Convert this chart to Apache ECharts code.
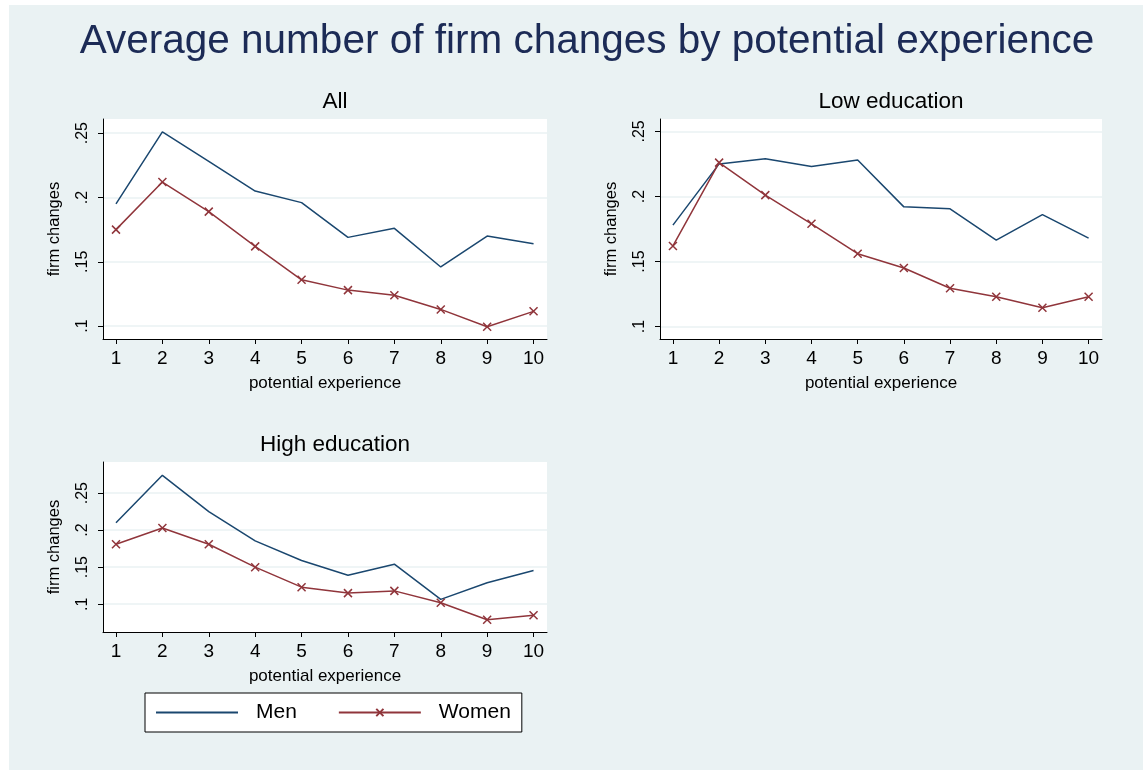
<!DOCTYPE html>
<html><head><meta charset="utf-8">
<script src="https://cdn.jsdelivr.net/npm/echarts@6/dist/echarts.min.js"></script>
<style>
html,body{margin:0;padding:0;background:#fff;}
#bg{position:absolute;left:9px;top:5px;width:1134px;height:765px;background:#EAF2F3;}
#c{position:absolute;left:0;top:0;width:1143px;height:770px;}
</style></head>
<body><div id="bg"></div><div id="c"></div>
<script>
const experience = [1,2,3,4,5,6,7,8,9,10];
const yTicks = [0.1, 0.15, 0.2, 0.25];
const allMen    = [0.195, 0.251, 0.228, 0.205, 0.196, 0.169, 0.176, 0.146, 0.170, 0.164];
const allWomen  = [0.175, 0.212, 0.189, 0.162, 0.136, 0.128, 0.124, 0.113, 0.0995, 0.1115];
const lowMen    = [0.178, 0.225, 0.229, 0.223, 0.228, 0.192, 0.1905, 0.1665, 0.186, 0.168];
const lowWomen  = [0.162, 0.226, 0.201, 0.179, 0.156, 0.145, 0.1295, 0.123, 0.1145, 0.123];
const highMen   = [0.210, 0.274, 0.225, 0.1855, 0.159, 0.139, 0.154, 0.1065, 0.129, 0.1455];
const highWomen = [0.181, 0.203, 0.181, 0.150, 0.123, 0.115, 0.118, 0.102, 0.079, 0.085];
const panelTitles = ['All', 'Low education', 'High education'];
const mainTitle = 'Average number of firm changes by potential experience';

const MEN = '#1a476f', WOMEN = '#90353b';
const FONT = 'Liberation Sans';
const xMark = 'path://M0,0L10,10M10,0L0,10';
const pairs = arr => experience.map((x, i) => [x, arr[i]]);
const fmt = v => String(v).replace(/^0/, '');

const grids = [
  {left:103, top:119, width:444, height:220},
  {left:660, top:119, width:442, height:220},
  {left:103, top:462, width:444, height:170}
];
const yRanges = [[0.09,0.261],[0.0905,0.2595],[0.0625,0.292]];
const panels = [[allMen, allWomen],[lowMen, lowWomen],[highMen, highWomen]];
const titlePos = [[335,102],[891,102],[335,445]];

const xAxes = grids.map((g,i)=>({
  type:'value', gridIndex:i, min:0.72, max:10.29,
  name:'potential experience', nameLocation:'middle', nameGap:36,
  nameTextStyle:{fontSize:17, color:'#000', fontFamily:FONT},
  axisLine:{show:true, lineStyle:{color:'#000', width:1}},
  axisTick:{show:true, length:5, customValues:experience, lineStyle:{color:'#000'}},
  axisLabel:{customValues:experience, fontSize:19, color:'#000', margin:10, fontFamily:FONT, formatter:v=>String(v)},
  splitLine:{show:false}
}));
const yAxes = grids.map((g,i)=>({
  type:'value', gridIndex:i, min:yRanges[i][0], max:yRanges[i][1],
  name:'firm changes', nameLocation:'middle', nameGap:40,
  nameTextStyle:{fontSize:16.5, color:'#000', fontFamily:FONT},
  axisLine:{show:true, lineStyle:{color:'#000', width:1}},
  axisTick:{show:true, length:5, customValues:yTicks, lineStyle:{color:'#000'}},
  axisLabel:{customValues:yTicks, rotate:90, fontSize:16, color:'#000', margin:12, fontFamily:FONT, formatter:fmt},
  splitLine:{show:true, lineStyle:{color:'#EAF2F3', width:1.5}}
}));
const series = [];
panels.forEach((p,i)=>{
  series.push({name:'Men', type:'line', xAxisIndex:i, yAxisIndex:i, data:pairs(p[0]),
    showSymbol:false, symbol:'none', lineStyle:{color:MEN, width:1.5}, itemStyle:{color:MEN}, animation:false});
  series.push({name:'Women', type:'line', xAxisIndex:i, yAxisIndex:i, data:pairs(p[1]),
    symbol:xMark, symbolSize:8, lineStyle:{color:WOMEN, width:1.5},
    itemStyle:{color:WOMEN, borderColor:WOMEN, borderWidth:1.5}, animation:false});
});
const graphics = [
  {type:'text', x:587, y:42, style:{text:mainTitle, fontSize:40.5, fill:'#1c2b56', fontFamily:FONT, align:'center', verticalAlign:'middle'}}
].concat(panelTitles.map((t,i)=>({type:'text', x:titlePos[i][0], y:titlePos[i][1],
  style:{text:t, fontSize:22.5, fill:'#000', fontFamily:FONT, align:'center', verticalAlign:'middle'}})));

const chart = echarts.init(document.getElementById('c'), null, {renderer:'canvas'});
chart.setOption({
  backgroundColor:'transparent',
  animation:false,
  graphic:graphics,
  grid:grids.map(g=>Object.assign({show:true, backgroundColor:'#fff', borderWidth:0}, g)),
  xAxis:xAxes, yAxis:yAxes, series:series,
  legend:{data:[{name:'Men', itemStyle:{color:'rgba(0,0,0,0)', borderWidth:0}}, 'Women'], left:145, top:693, orient:'horizontal',
    backgroundColor:'#fff', borderColor:'#000', borderWidth:1, borderRadius:0,
    padding:[9,11,9,10], itemWidth:82, itemHeight:9, itemGap:41,
    textStyle:{fontSize:21, color:'#000', fontFamily:FONT, padding:[0,0,0,13]}}
});
</script></body></html>
